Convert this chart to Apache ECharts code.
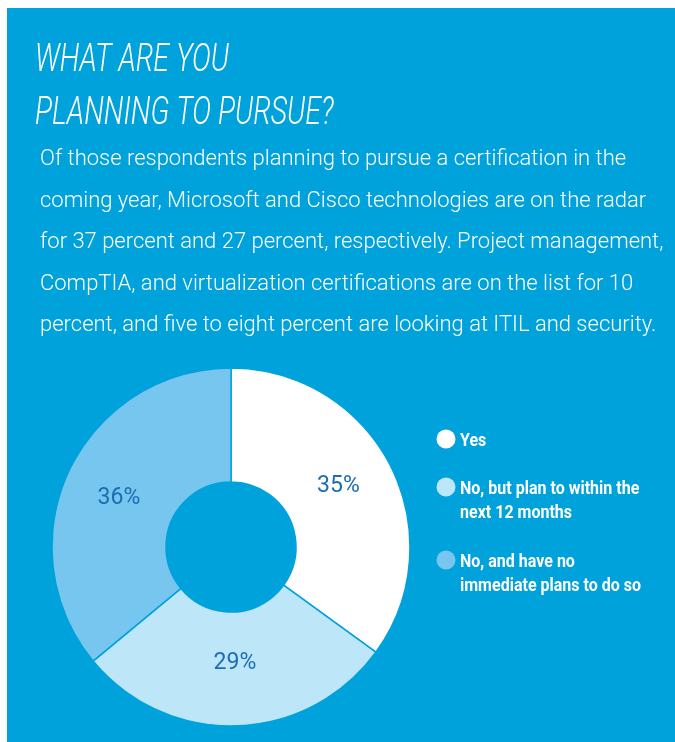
<!DOCTYPE html>
<html>
<head>
<meta charset="utf-8">
<script src="https://cdn.jsdelivr.net/npm/echarts@6/dist/echarts.min.js"></script>
<style>
  html, body { margin: 0; padding: 0; background: #ffffff; }
  #chart { width: 675px; height: 742px; }
</style>
</head>
<body>
<div id="chart"></div>
<script>
const categories = [
  'Yes',
  'No, but plan to within the next 12 months',
  'No, and have no immediate plans to do so'
];
const values = [35, 29, 36];
const legendLines = [
  ['Yes'],
  ['No, but plan to within the', 'next 12 months'],
  ['No, and have no', 'immediate plans to do so']
];
const sliceColors = ['#ffffff', '#bde6f9', '#77c6ef'];
const titleLines = ['WHAT ARE YOU', 'PLANNING TO PURSUE?'];
const bodyLines = [
  'Of those respondents planning to pursue a certification in the',
  'coming year, Microsoft and Cisco technologies are on the radar',
  'for 37 percent and 27 percent, respectively. Project management,',
  'CompTIA, and virtualization certifications are on the list for 10',
  'percent, and five to eight percent are looking at ITIL and security.'
];

const BG = '#00a2dc';
const chart = echarts.init(document.getElementById('chart'), null, { renderer: 'canvas' });

const graphics = [
  { type: 'rect', left: 7, top: 8, z: -10, silent: true,
    shape: { width: 668, height: 734 }, style: { fill: BG } }
];
titleLines.forEach((t, i) => {
  graphics.push({
    type: 'text', x: 35, y: [61, 114.5][i], scaleX: 0.75, silent: true,
    style: { text: t, fill: '#ffffff', font: 'italic 300 38px Roboto',
      verticalAlign: 'middle', align: 'left' }
  });
});
bodyLines.forEach((t, i) => {
  graphics.push({
    type: 'text', x: 40, y: 159.5 + i * 41.6, silent: true,
    style: { text: t, fill: '#ffffff', font: '300 22px Roboto',
      verticalAlign: 'middle', align: 'left' }
  });
});

// legend drawn from the category list
const legendIconY = [439, 487, 560];
categories.forEach((c, i) => {
  graphics.push({
    type: 'circle', silent: true,
    shape: { cx: 446, cy: legendIconY[i], r: 9.5 },
    style: { fill: sliceColors[i] }
  });
  legendLines[i].forEach((line, j) => {
    graphics.push({
      type: 'text', x: 460, y: legendIconY[i] + 2 + j * 24.5, scaleX: 0.89, silent: true,
      style: { text: line, fill: '#ffffff', font: 'bold 18px Roboto',
        verticalAlign: 'middle', align: 'left' }
    });
  });
});

chart.setOption({
  backgroundColor: '#ffffff',
  animation: false,
  graphic: graphics,
  series: [{
    type: 'pie',
    name: 'Certification plans',
    center: [231, 547],
    radius: [65, 179],
    startAngle: 90,
    clockwise: true,
    silent: true,
    label: {
      show: true,
      position: 'inside',
      formatter: '{c}%',
      color: '#1b6db4',
      fontFamily: 'Roboto',
      fontWeight: 'normal',
      fontSize: 23
    },
    labelLine: { show: false },
    itemStyle: { borderColor: BG, borderWidth: 1.5 },
    data: categories.map((c, i) => ({
      name: c, value: values[i],
      itemStyle: { color: sliceColors[i] },
      label: { offset: [[-4, -4], [0, -9], [1, 4]][i] }
    }))
  }]
});
</script>
</body>
</html>
